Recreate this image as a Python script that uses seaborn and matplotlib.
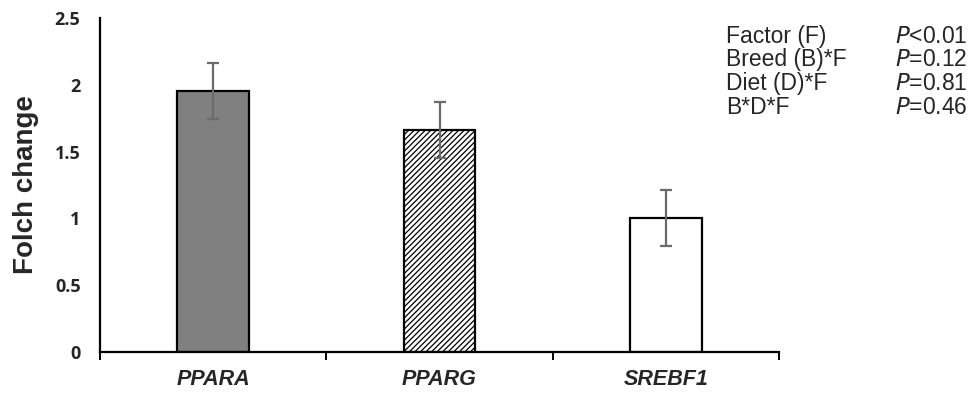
import matplotlib
matplotlib.use("Agg")
import matplotlib.pyplot as plt
import seaborn as sns
import pandas as pd

genes = ["PPARA", "PPARG", "SREBF1"]
fold_change = [1.95, 1.66, 1.00]
sem = [0.21, 0.21, 0.21]
stat_terms = ["Factor (F)", "Breed (B)*F", "Diet (D)*F", "B*D*F"]
stat_pvalues = ["<0.01", "=0.12", "=0.81", "=0.46"]

sns.set_theme(style="white")
plt.rcParams["font.family"] = ["Liberation Sans", "DejaVu Sans"]
plt.rcParams["hatch.color"] = "#9a9a9a"
plt.rcParams["hatch.linewidth"] = 0.9

df = pd.DataFrame({"gene": genes, "fc": fold_change})

fig = plt.figure(figsize=(9.8, 3.96), dpi=100)
ax = fig.add_axes([0.102, 0.111, 0.693, 0.844])

sns.barplot(data=df, x="gene", y="fc", ax=ax, width=0.315,
            color="white", edgecolor="black", linewidth=1.6, errorbar=None)

fills = ["#808080", "white", "white"]
hatches = [None, "//////", None]
for patch, fc, h in zip(ax.patches, fills, hatches):
    patch.set_facecolor(fc)
    if h:
        patch.set_hatch(h)

centers = [p.get_x() + p.get_width() / 2 for p in ax.patches]
ax.errorbar(centers, fold_change, yerr=sem, fmt="none", ecolor="#6b6b6b",
            elinewidth=1.6, capsize=4, capthick=1.6, zorder=5)

ax.set_xlim(-0.5, 2.5)
ax.set_ylim(0, 2.5)
ax.set_yticks([0, 0.5, 1, 1.5, 2, 2.5])
ax.set_yticklabels(["0", "0.5", "1", "1.5", "2", "2.5"],
                   fontweight="bold", fontsize=13, family=["Open Sans", "DejaVu Sans"])
ax.tick_params(axis="y", left=False, length=0, pad=14)

# category labels centred on bars, tick marks at category boundaries
ax.set_xticks([-0.5, 0.5, 1.5, 2.5], minor=False)
ax.set_xticklabels([])
ax.tick_params(axis="x", which="major", bottom=True, length=6, width=1.4,
               direction="out", color="black")
ax.set_xticks([0, 1, 2], minor=True)
ax.set_xticklabels(genes, minor=True, fontweight="bold", fontstyle="italic", fontsize=15.5)
ax.tick_params(axis="x", which="minor", bottom=True, length=0, pad=12)

ax.set_xlabel("")
ax.set_ylabel("Folch change", fontsize=20, fontweight="bold")
ax.yaxis.set_label_coords(-0.09, 0.5)

for side in ["top", "right"]:
    ax.spines[side].set_visible(False)
for side in ["left", "bottom"]:
    ax.spines[side].set_color("black")
    ax.spines[side].set_linewidth(1.6)

y0 = 0.909
dy = 0.0598
for i, (term, p) in enumerate(zip(stat_terms, stat_pvalues)):
    y = y0 - i * dy
    fig.text(0.741, y, term, fontsize=16.5, va="center", ha="left")
    fig.text(0.913, y, "$\\it{P}$" + p, fontsize=16.5, va="center", ha="left")

fig.savefig("out.png", dpi=100)
